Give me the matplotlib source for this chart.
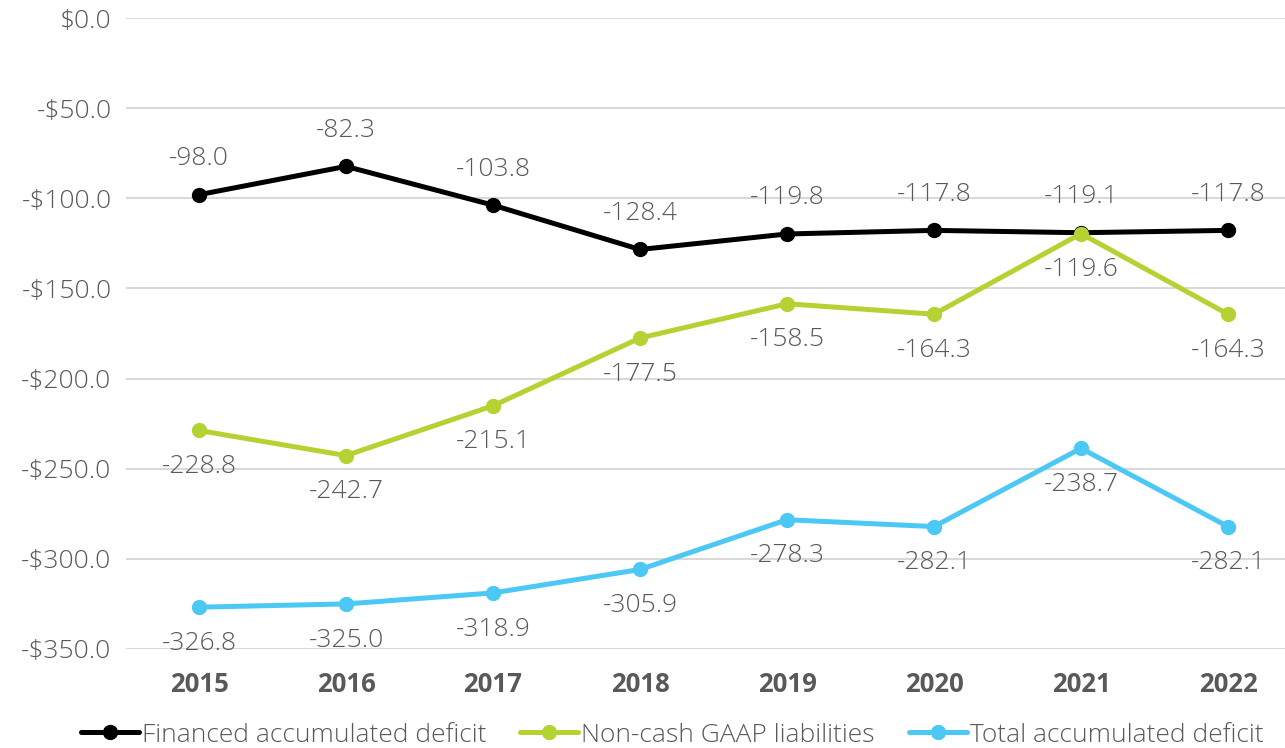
import matplotlib
matplotlib.use("Agg")
import matplotlib.pyplot as plt

years = ["2015", "2016", "2017", "2018", "2019", "2020", "2021", "2022"]
financed = [-98.0, -82.3, -103.8, -128.4, -119.8, -117.8, -119.1, -117.8]
noncash = [-228.8, -242.7, -215.1, -177.5, -158.5, -164.3, -119.6, -164.3]
total = [-326.8, -325.0, -318.9, -305.9, -278.3, -282.1, -238.7, -282.1]
yticks = [0, -50, -100, -150, -200, -250, -300, -350]

FONT = ["Open Sans", "DejaVu Sans"]
plt.rcParams['font.family'] = FONT
TXT = "#595959"
FS = 19

fig = plt.figure(figsize=(12.85, 7.48), dpi=100)
ax = fig.add_axes([125.5/1285, 1-649/748, 1176/1285, 631/748])
x = list(range(len(years)))

series = [
    (financed, "#000000", "Financed accumulated deficit", 1),
    (noncash, "#b4d333", "Non-cash GAAP liabilities", -1),
    (total, "#4cc8f4", "Total accumulated deficit", -1),
]
for vals, col, name, pos in series:
    ax.plot(x, vals, color=col, lw=3.6, marker="o", ms=10, label=name,
            solid_capstyle="round", zorder=3)
    for xi, v in zip(x, vals):
        ax.annotate(f"{v:.1f}", (xi, v), xytext=(0, 26*pos), textcoords="offset points",
                    ha="center", va="center", fontsize=FS, fontweight="light",
                    color=TXT, zorder=4)

ax.set_xlim(-0.5, len(years)-0.5)
ax.set_ylim(-350, 0)
ax.set_yticks(yticks)
ax.set_yticklabels([f"-${-v:.1f}" if v < 0 else f"${v:.1f}" for v in yticks],
                   fontsize=FS, fontweight="light", color=TXT)
ax.set_xticks(x)
ax.set_xticklabels(years, fontsize=FS - 0.5, fontweight="bold", color=TXT)
ax.tick_params(axis="both", length=0)
ax.tick_params(axis="y", pad=10)
ax.tick_params(axis="x", pad=16)
ax.grid(axis="y", color="#d9d9d9", lw=1.5)
ax.set_axisbelow(True)
for s in ax.spines.values():
    s.set_visible(False)

leg = fig.legend(loc="center", bbox_to_anchor=(0.523, 1-735/748), ncol=3, frameon=False,
                 labelcolor=TXT, handlelength=2.2, handletextpad=0.1,
                 columnspacing=1.3, prop={"weight": "light", "size": FS})
fig.savefig("out.png", dpi=100)
